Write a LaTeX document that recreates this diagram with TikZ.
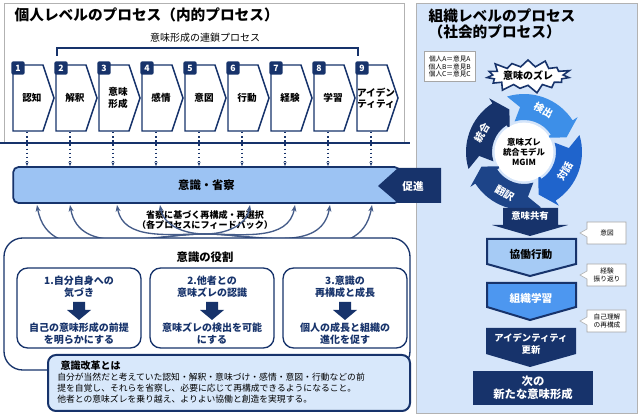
\documentclass[tikz,border=0pt]{standalone}
\usepackage{fontspec}
\setmainfont{Noto Sans CJK JP}
\usetikzlibrary{shapes.symbols,arrows.meta}
\definecolor{navy}{HTML}{17336B}
\definecolor{barfill}{HTML}{9CC3F3}
\definecolor{rbg}{HTML}{D5E5FA}
\definecolor{bfill}{HTML}{D8E8FB}
\definecolor{blueA}{HTML}{3D8FE8}
\definecolor{blueB}{HTML}{1F64CC}
\definecolor{blueC}{HTML}{1D4488}
\definecolor{kfill}{HTML}{A6CBF5}
\definecolor{sfill}{HTML}{4D97F0}
\tikzset{
 chev/.style={draw=navy,line width=1.1pt,fill=white},
 badge/.style={fill=navy,rounded corners=1.5pt,text=white,font=\bfseries\fontsize{6.5}{7}\selectfont,minimum size=10pt,inner sep=0pt},
 clab/.style={font=\bfseries\fontsize{7.2}{8.5}\selectfont,align=center},
 dot/.style={navy,line width=1.1pt,dotted,-{Stealth[length=3pt]}},
 fb/.style={navy!80,line width=1pt,-{Stealth[length=5pt]}},
 subbox/.style={draw=navy,line width=1pt,rounded corners=8pt},
 subt/.style={navy,font=\bfseries\fontsize{7.5}{9}\selectfont,align=center},
 call/.style={draw=gray!70,fill=white,font=\fontsize{5}{6}\selectfont,align=center},
 flowt/.style={font=\bfseries\fontsize{8}{10}\selectfont,align=center},
}
\begin{document}
\begin{tikzpicture}[x=0.75pt,y=-0.75pt]
\useasboundingbox (0,0) rectangle (640,416);
\fill[white] (0,0) rectangle (640,416);
% ---- left top
\draw[gray!60] (4,3) rectangle (404,143);
\draw[navy,line width=1pt] (0,143) -- (410,143);
\node[anchor=west,font=\bfseries\fontsize{11}{12}\selectfont] (ltitle) at (10,15) {個人レベルのプロセス（内的プロセス）};
\draw[navy,line width=1pt] (57,56) -- (57,48) -- (358,48) -- (358,56);
\node[font=\fontsize{7.5}{8}\selectfont] (chain) at (205,38) {意味形成の連鎖プロセス};
\foreach \i/\x/\t in {1/13/認知,2/56/解釈,3/99/意味\\形成,4/142/感情,5/185/意図,6/228/行動,7/271/経験,8/314/学習,9/357/アイデン\\ティティ}{
 \draw[chev] (\x,65) -- (\x+30,65) -- (\x+41,98) -- (\x+30,131) -- (\x,131) -- cycle;
 \node[clab] (c\i) at (\x+19,98) {\t};
 \node[badge] (b\i) at (\x+5,68) {\i};
 \coordinate (d\i) at (\x+14,132);
 \coordinate (e\i) at (\x+14,166);
 \draw[dot] (d\i) -- (e\i);
}
% ---- bar
\node[draw=navy,line width=1.3pt,fill=barfill,rounded corners=4pt,minimum width=290pt,minimum height=27pt,font=\bfseries\fontsize{8.5}{10}\selectfont] (bar) at (206.5,185) {意識・省察};
% feedback
\coordinate (fbc) at (205,234);
\node[font=\bfseries\fontsize{6.8}{8}\selectfont,align=center] (fbt) at (205,220) {省察に基づく再構成・再選択\\（各プロセスにフィードバック）};
\foreach \x in {37,70,117,160} \draw[fb] (fbc) to[out=180,in=-80] (\x,205);
\foreach \x in {250,295,330,372} \draw[fb] (fbc) to[out=0,in=-100] (\x,205);
% ---- role box
\draw[draw=navy,line width=1pt,fill=white,rounded corners=14pt] (4,238) rectangle (410,370);
\node[font=\bfseries\fontsize{8.5}{10}\selectfont] (rtitle) at (205,257) {意識の役割};
\foreach \j/\a/\t/\b in {1/17/1.自分自身への\\気づき/自己の意味形成の前提\\を明らかにする,2/150/2.他者との\\意味ズレの認識/意味ズレの検出を可能\\にする,3/283/3.意識の\\再構成と成長/個人の成長と組織の\\進化を促す}{
 \draw[subbox] (\a,268) rectangle (\a+124,348);
 \node[subt] (rt\j) at (\a+62,287) {\t};
 \node[subt] (rb\j) at (\a+62,334) {\b};
 \fill[navy] (\a+56,302) rectangle (\a+68,310) (\a+50,310) -- (\a+74,310) -- (\a+62,320) -- cycle;
}
\draw[navy,line width=1.5pt,fill=bfill,rounded corners=6pt] (48,355) rectangle (410,411);
\node[anchor=west,font=\bfseries\fontsize{7.5}{9}\selectfont] (kt) at (56,366) {意識改革とは};
\node[anchor=north west,font=\fontsize{6.6}{8.3}\selectfont,align=left,inner sep=0pt] (kb) at (57,373) {自分が当然だと考えていた認知・解釈・意味づけ・感情・意図・行動などの前\\提を自覚し、それらを省察し、必要に応じて再構成できるようになること。\\他者との意味ズレを乗り越え、よりよい協働と創造を実現する。};
% ---- right panel
\draw[gray!60,fill=rbg] (416,3) rectangle (637,413);
\fill[navy] (378,186) -- (398,168) -- (441,168) -- (441,203) -- (398,203) -- cycle;
\node[text=white,font=\bfseries\fontsize{8}{9}\selectfont] (soku) at (413,186) {促進};
\node[anchor=west,font=\bfseries\fontsize{11}{12}\selectfont,align=left] (rtit) at (424,24) {組織レベルのプロセス\\（社会的プロセス）};
\node[call,font=\fontsize{5}{5.8}\selectfont,anchor=north west] (ind) at (424,51) {個人A＝意見A\\個人B＝意見B\\個人C＝意見C};
\node[starburst,starburst points=15,starburst point height=7pt,fill=white,draw=navy,line width=1.2pt,minimum width=64pt,minimum height=28pt,inner sep=0pt,font=\bfseries\fontsize{7.5}{8}\selectfont] (zure) at (528,76) {意味のズレ};
\begin{scope}[shift={(524,152)},x=0.75pt,y=0.75pt]
 \foreach \s/\c/\t/\rot in {197/navy/統合/60,107/blueA/検出/-30,17/blueB/対話/60,-73/blueC/翻訳/-30}{
  \pgfmathsetmacro\e{\s-88}
  \pgfmathsetmacro\ee{\e+14}
  \fill[\c] (\s:58) arc[start angle=\s,end angle=\ee,radius=58] -- (\ee:64) -- (\e:45) -- (\ee:26) -- (\ee:32) arc[start angle=\ee,end angle=\s,radius=32] -- (\s-12:45) -- cycle;
  \pgfmathsetmacro\m{\s-42}
  \node[text=white,font=\bfseries\fontsize{7.5}{8}\selectfont,rotate=\rot,inner sep=0pt] at (\m:46) {\t};
 }
 \node[circle,fill=white,minimum size=44pt,inner sep=0pt,font=\bfseries\fontsize{6.3}{7.3}\selectfont,align=center] (mgim) at (0,0) {意味ズレ\\統合モデル\\MGIM};
\end{scope}
% flow
\fill[navy] (503,208) -- (558,208) -- (558,225) -- (568,225) -- (530,236) -- (492,225) -- (503,225) -- cycle;
\node[text=white,font=\bfseries\fontsize{7}{8}\selectfont] (kyo) at (530,216) {意味共有};
\draw[navy,line width=1.5pt,fill=kfill] (487,239) -- (576,239) -- (576,264) -- (530,276) -- (487,264) -- cycle;
\node[flowt] (kd) at (531,254) {協働行動};
\draw[navy,line width=1.5pt,fill=sfill] (487,283) -- (576,283) -- (576,307) -- (530,320) -- (487,307) -- cycle;
\node[flowt,text=white] (sg) at (531,298) {組織学習};
\fill[navy] (486,328) -- (576,328) -- (576,354) -- (530,367) -- (486,354) -- cycle;
\node[flowt,text=white,font=\bfseries\fontsize{7}{8.5}\selectfont] (id) at (531,344) {アイデンティティ\\更新};
\node[fill=navy,minimum width=90pt,minimum height=26pt,text=white,flowt,font=\bfseries\fontsize{8.5}{10}\selectfont] (next) at (533,388) {次の\\新たな意味形成};
\foreach \n/\y/\t in {c1/222/意図,c2/264/経験\\振り返り,c3/310/自己理解\\の再構成}{
 \draw[gray!70,fill=white] (587,\y) -- (626,\y) -- (626,\y+22) -- (587,\y+22) -- (587,\y+15) -- (580,\y+11) -- (587,\y+7) -- cycle;
 \node[font=\fontsize{5}{6}\selectfont,align=center] (\n) at (607,\y+11) {\t};
}
\end{tikzpicture}
\end{document}
